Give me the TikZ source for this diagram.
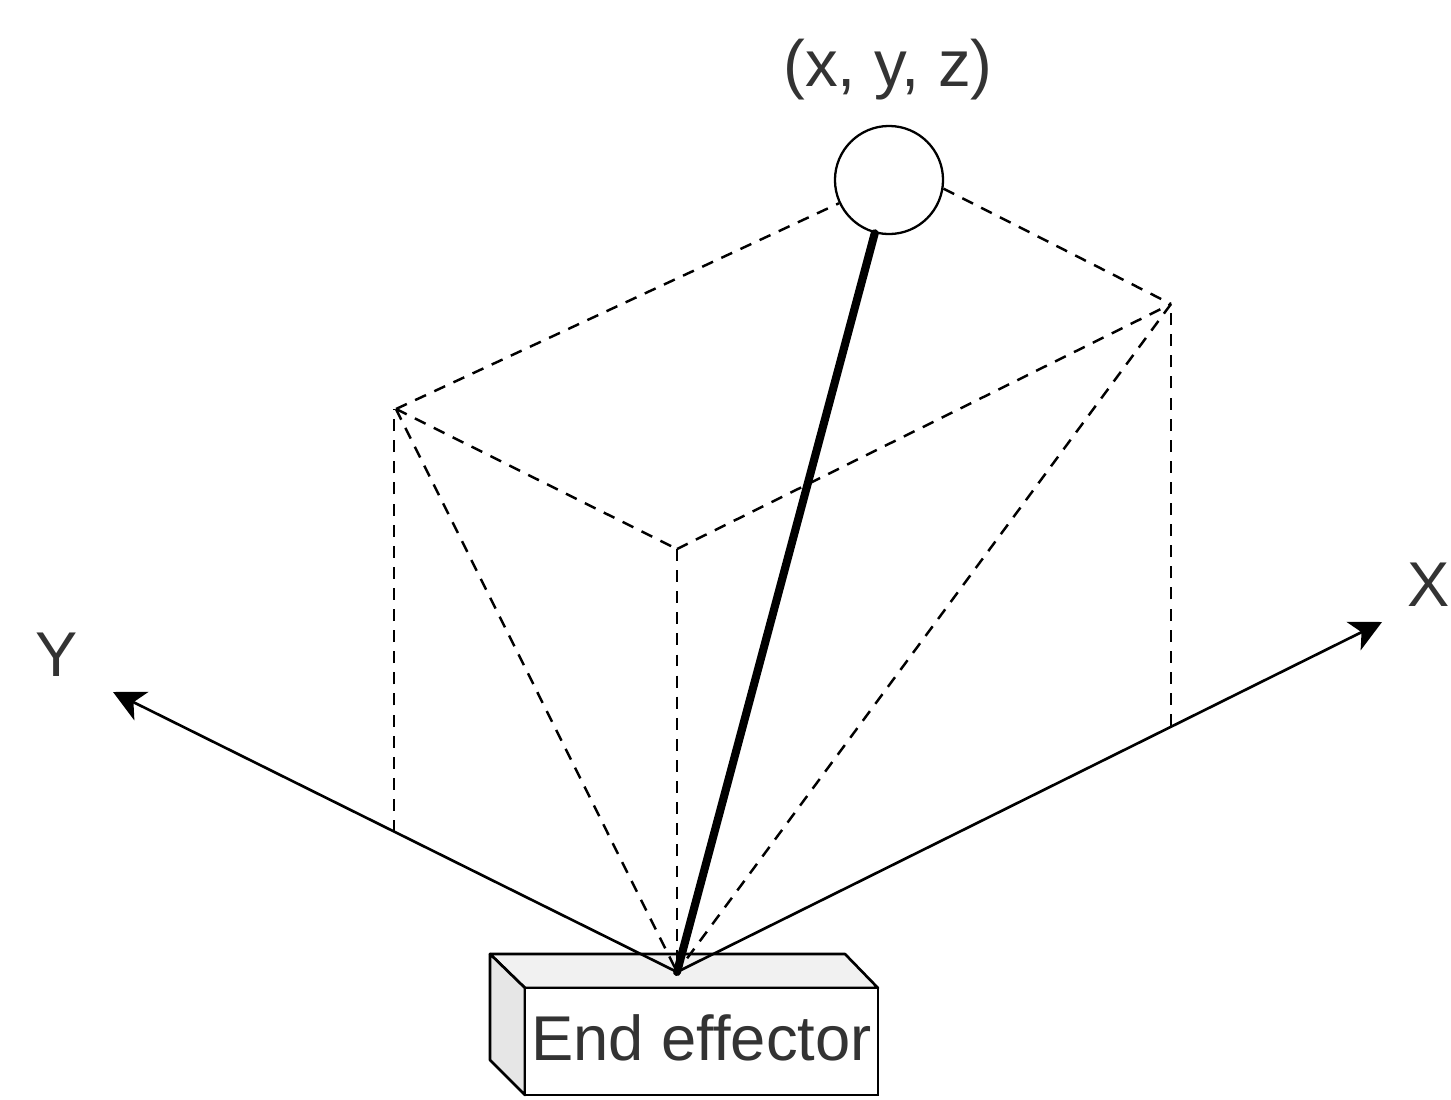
\documentclass[tikz,border=0pt]{standalone}
\usepackage{fontspec}
\setmainfont{Liberation Sans}
\usetikzlibrary{arrows.meta}
\definecolor{lblgray}{HTML}{333333}
\definecolor{topface}{HTML}{F1F1F1}
\definecolor{sideface}{HTML}{E6E6E6}

\begin{document}
\begin{tikzpicture}[
  x=0.01cm, y=-0.01cm,
  >={Stealth[length=9pt, width=9pt, inset=2.5pt]},
  font=\fontsize{18}{20}\selectfont,
  lbl/.style={text=lblgray, inner sep=0pt},
  axis/.style={->, line width=0.75pt},
  guide/.style={line width=0.7pt, dash pattern=on 3.4pt off 2.6pt},
  link/.style={line width=2.3pt, line cap=round},
  joint/.style={circle, draw, line width=0.65pt, minimum size=1.08cm, inner sep=0pt},
  facebox/.style={draw, line width=0.75pt, fill=white, text=lblgray, minimum width=3.53cm,
    minimum height=1.07cm, inner sep=0pt},
  face/.style={draw, line width=0.75pt, line join=round},
]
  \useasboundingbox (0, 0) rectangle (1451, 1100);

  \foreach \name/\x/\y in {org/677/972, ltop/396/409, rtop/1171/304, mid/677/549,
      ymax/113/692, xmax/1382/622, lcol/394/409, lfoot/394/832, rfoot/1171/726}
    \coordinate (\name) at (\x, \y);

  % cube around the front box
  \draw[face, fill=topface] (490, 954) -- (845, 954) -- (878, 988) -- (525, 988) -- cycle;
  \draw[face, fill=sideface] (490, 954) -- (525, 988) -- (525, 1095) -- (490, 1060) -- cycle;
  \node[facebox] (effector) at (701.5, 1041.5) {\raisebox{2pt}{End effector}};

  \node[joint] (tip) at (889, 180) {};
  \node[lbl] (tiplbl) at (888, 70) {\fontsize{18.6}{20}\selectfont (x, y, z)};
  \node[lbl] (ylbl) at (57, 655) {Y};
  \node[lbl] (xlbl) at (1429, 585) {X};

  \foreach \from/\to in {ltop/tip, ltop/mid, mid/rtop, ltop/org, rtop/org, mid/org,
      lfoot/lcol, rfoot/rtop}
    \draw[guide] (\from) -- (\to);
  \draw[guide] (tip.-9) -- (rtop);

  \draw[axis] (org) -- (ymax);
  \draw[axis] (org) -- (xmax);
  \draw[link] (org) -- (tip);
\end{tikzpicture}
\end{document}
